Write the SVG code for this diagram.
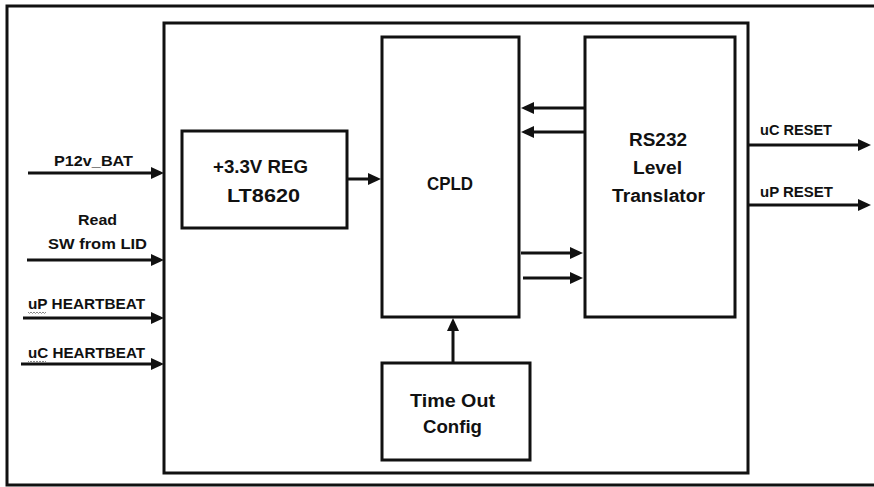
<svg xmlns="http://www.w3.org/2000/svg" width="874" height="487" viewBox="0 0 874 487">
<style>
.box{fill:#fff;stroke:#111;stroke-width:3}
.frame{fill:none;stroke:#111;stroke-width:3}
.ln{fill:none;stroke:#111;stroke-width:3;marker-end:url(#ah)}
text{font-family:"Liberation Sans",Arial,sans-serif;font-weight:bold;fill:#111}
.bt{font-size:18px;text-anchor:middle}
.st{font-size:15px}
.wv{fill:none;stroke:#888;stroke-width:1}
</style>
<defs>
<marker id="ah" viewBox="0 0 13 12" refX="7" refY="6" markerWidth="13" markerHeight="12" markerUnits="userSpaceOnUse" orient="auto">
<path d="M0,0 L13,6 L0,12 Z" fill="#111"/>
</marker>
</defs>
<rect width="874" height="487" fill="#fff"/>
<g id="frame"><path class="frame" d="M880,6 H7 V485 H880"/></g>
<g id="system"><rect class="box" x="164" y="23" width="584" height="450"/></g>
<g id="reg"><rect class="box" x="182" y="131" width="165" height="97"/>
<text class="bt" x="260.5" y="173" textLength="95" lengthAdjust="spacingAndGlyphs">+3.3V REG</text>
<text class="bt" x="263.5" y="202" textLength="73" lengthAdjust="spacingAndGlyphs">LT8620</text></g>
<g id="cpld"><rect class="box" x="382" y="37" width="137" height="280"/>
<text class="bt" x="450" y="190" textLength="46" lengthAdjust="spacingAndGlyphs">CPLD</text></g>
<g id="rs232"><rect class="box" x="585" y="37" width="150" height="280"/>
<text class="bt" x="658" y="146" textLength="58" lengthAdjust="spacingAndGlyphs">RS232</text>
<text class="bt" x="657.5" y="174" textLength="49" lengthAdjust="spacingAndGlyphs">Level</text>
<text class="bt" x="658.5" y="202" textLength="93" lengthAdjust="spacingAndGlyphs">Translator</text></g>
<g id="timeout"><rect class="box" x="382" y="363" width="148" height="97"/>
<text class="bt" x="452.5" y="407" textLength="85" lengthAdjust="spacingAndGlyphs">Time Out</text>
<text class="bt" x="452.5" y="433" textLength="59" lengthAdjust="spacingAndGlyphs">Config</text></g>
<g id="connectors">
<line class="ln" x1="28" y1="173" x2="158" y2="173"/>
<line class="ln" x1="27" y1="260" x2="158" y2="260"/>
<line class="ln" x1="23" y1="318" x2="158" y2="318"/>
<line class="ln" x1="21" y1="364" x2="158" y2="364"/>
<line class="ln" x1="347" y1="179" x2="375" y2="179"/>
<line class="ln" x1="584" y1="108" x2="527" y2="108"/>
<line class="ln" x1="584" y1="132" x2="527" y2="132"/>
<line class="ln" x1="521" y1="253" x2="577" y2="253"/>
<line class="ln" x1="523" y1="278" x2="577" y2="278"/>
<line class="ln" x1="453" y1="363" x2="453" y2="324"/>
<line class="ln" x1="748" y1="145" x2="865" y2="145"/>
<line class="ln" x1="748" y1="205" x2="865" y2="205"/>
</g>
<g id="labels">
<text class="st" x="54" y="166" textLength="79" lengthAdjust="spacingAndGlyphs">P12v_BAT</text>
<text class="st" x="78" y="225" textLength="39" lengthAdjust="spacingAndGlyphs">Read</text>
<text class="st" x="48" y="249" textLength="99" lengthAdjust="spacingAndGlyphs">SW from LID</text>
<text class="st" x="28" y="309" textLength="117" lengthAdjust="spacingAndGlyphs">uP HEARTBEAT</text>
<text class="st" x="28" y="358" textLength="117" lengthAdjust="spacingAndGlyphs">uC HEARTBEAT</text>
<text class="st" x="760" y="135" textLength="72" lengthAdjust="spacingAndGlyphs">uC RESET</text>
<text class="st" x="760" y="197" textLength="73" lengthAdjust="spacingAndGlyphs">uP RESET</text>
<path class="wv" d="M28,312 l1.5,1.5 l1.5,-1.5 l1.5,1.5 l1.5,-1.5 l1.5,1.5 l1.5,-1.5 l1.5,1.5 l1.5,-1.5 l1.5,1.5 l1.5,-1.5 l1.5,1.5 l1.5,-1.5"/>
<path class="wv" d="M28,361 l1.5,1.5 l1.5,-1.5 l1.5,1.5 l1.5,-1.5 l1.5,1.5 l1.5,-1.5 l1.5,1.5 l1.5,-1.5 l1.5,1.5 l1.5,-1.5 l1.5,1.5 l1.5,-1.5"/>
</g>
</svg>
